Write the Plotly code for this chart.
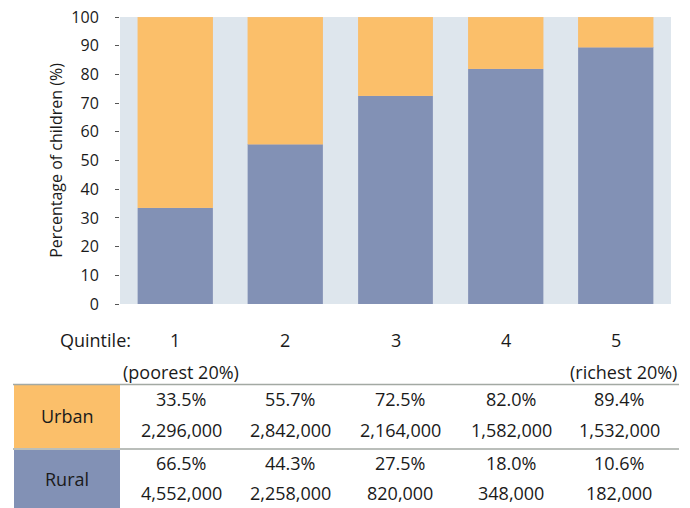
import plotly.graph_objects as go

# ---- data ----
quintiles = ["1", "2", "3", "4", "5"]
quintile_notes = ["(poorest 20%)", "", "", "", "(richest 20%)"]
urban_pct = [33.5, 55.7, 72.5, 82.0, 89.4]
rural_pct = [66.5, 44.3, 27.5, 18.0, 10.6]
urban_n = ["2,296,000", "2,842,000", "2,164,000", "1,582,000", "1,532,000"]
rural_n = ["4,552,000", "2,258,000", "820,000", "348,000", "182,000"]
row_labels = ["Urban", "Rural"]
y_ticks = [0, 10, 20, 30, 40, 50, 60, 70, 80, 90, 100]

# ---- styles ----
W, H = 690, 508
# plot area in window pixels
PL, PR, PT, PB = 120, 671, 17, 304
ORANGE = "#FBBF6A"
BLUE = "#8291B5"
BG = "#DEE6ED"
FONT = "Open Sans"
TXT = "#1a1a1a"
FS = 18


def px_x(x):
    return (x - PL) / (PR - PL)


def px_y(y):
    return (PB - y) / (PB - PT)


fig = go.Figure()
fig.add_trace(go.Bar(x=quintiles, y=urban_pct, name="Urban", marker_color=BLUE,
                     marker_line=dict(color="#9AA6C4", width=0.5)))
fig.add_trace(go.Bar(x=quintiles, y=rural_pct, name="Rural", marker_color=ORANGE,
                     marker_line=dict(color="#F5C27E", width=0.5)))

annotations = []
shapes = []


def txt(x, y, s, xref="paper", anchor="center", size=FS):
    annotations.append(dict(x=x, y=px_y(y), xref=xref, yref="paper", text=s,
                            showarrow=False, font=dict(family=FONT, size=size, color=TXT),
                            xanchor=anchor, yanchor="middle"))


# Quintile label row
txt(px_x(95), 340, "Quintile:")
for i, q in enumerate(quintiles):
    txt(i, 340, q, xref="x")
# notes
txt(px_x(181), 372, quintile_notes[0])
txt(px_x(679), 372, quintile_notes[4], anchor="right")

# table cells
col_offsets = [181, 290, 400, 511, 619]
rows = [
    (urban_pct, urban_n, 399, 430),
    (rural_pct, rural_n, 463, 493),
]
for pcts, ns, y1, y2 in rows:
    for i in range(len(quintiles)):
        txt(px_x(col_offsets[i]), y1, f"{pcts[i]:.1f}%")
        txt(px_x(col_offsets[i]), y2, ns[i])

# row label cells
cells = [(ORANGE, 385, 448, 416), (BLUE, 450, 508, 479)]
for (col, y0, y1, yc), lab in zip(cells, row_labels):
    shapes.append(dict(type="rect", xref="paper", yref="paper",
                       x0=px_x(14), x1=px_x(120), y0=px_y(y0), y1=px_y(y1),
                       fillcolor=col, line=dict(width=0), layer="below"))
    txt(px_x(67), yc, lab)

for yl in (384.5, 449):
    shapes.append(dict(type="line", xref="paper", yref="paper",
                       x0=px_x(13), x1=px_x(679), y0=px_y(yl), y1=px_y(yl),
                       line=dict(color="#A3A9A3", width=1.5)))

fig.update_layout(
    width=W, height=H,
    margin=dict(l=PL, r=W - PR, t=PT, b=H - PB, pad=0),
    barmode="stack",
    bargap=0.32,
    showlegend=False,
    hovermode=False,
    plot_bgcolor=BG,
    paper_bgcolor="white",
    font=dict(family=FONT, size=16, color=TXT),
    annotations=annotations,
    shapes=shapes,
    xaxis=dict(type="category", showticklabels=False, ticks="", showgrid=False,
               zeroline=False, showline=False, automargin=False),
    yaxis=dict(range=[0, 100], tickvals=y_ticks, ticks="outside", ticklen=4,
               tickcolor="#555", tickwidth=1, showgrid=False, zeroline=False,
               ticklabelstandoff=13, automargin=False, ticklabeloverflow="allow",
               tickfont=dict(family=FONT, size=16, color=TXT),
               title=dict(text="Percentage of children (%)", standoff=4,
                          font=dict(family=FONT, size=16, color=TXT))),
)

fig.write_html("out.html", config={"displayModeBar": False},
               post_script="document.body.style.margin='0';document.body.style.padding='0';")
